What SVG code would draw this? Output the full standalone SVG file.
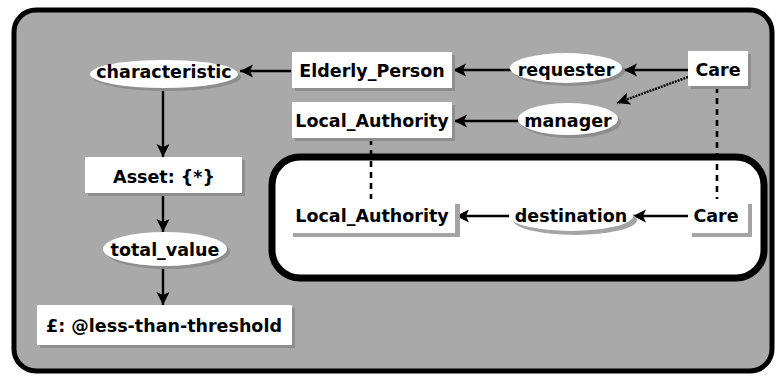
<svg xmlns="http://www.w3.org/2000/svg" width="779" height="376" viewBox="0 0 779 376">
<style>
text{font-family:"DejaVu Sans","Liberation Sans",sans-serif;font-weight:bold;font-size:17.5px;fill:#000;text-anchor:middle;dominant-baseline:central}
.box{fill:#fff}
.sh{fill:#8e8e8e}
.shw{fill:#a4a4a4}
.ln{stroke:#000;stroke-width:2.4;fill:none}
.dash{stroke:#000;stroke-width:2.6;fill:none;stroke-dasharray:6 5}
</style>
<defs>
<marker id="ah" markerUnits="userSpaceOnUse" markerWidth="14" markerHeight="14" viewBox="0 0 14 14" refX="13" refY="7" orient="auto">
<path d="M0,0.5 L13,7 L0,13.5 L3,7 z" fill="#000"/>
</marker>
</defs>
<rect x="0" y="0" width="779" height="376" fill="#fff"/>
<rect x="14" y="10" width="758" height="361" rx="22" fill="#a9a9a9" stroke="#000" stroke-width="5"/>
<rect x="272" y="157" width="492" height="121" rx="28" fill="#fff" stroke="#000" stroke-width="7"/>

<g id="connectors">
<line class="ln" x1="291" y1="71" x2="240" y2="71" marker-end="url(#ah)"/>
<line class="ln" x1="512" y1="70" x2="453" y2="70" marker-end="url(#ah)"/>
<line class="ln" x1="688" y1="70" x2="624" y2="70" marker-end="url(#ah)"/>
<line class="ln" x1="688" y1="77" x2="617" y2="103" stroke-dasharray="2 1" marker-end="url(#ah)"/>
<line class="ln" x1="518" y1="121" x2="454" y2="121" marker-end="url(#ah)"/>
<line class="ln" x1="163" y1="88" x2="163" y2="157" marker-end="url(#ah)"/>
<line class="ln" x1="163" y1="193" x2="163" y2="232" marker-end="url(#ah)"/>
<line class="ln" x1="163" y1="266" x2="163" y2="305" marker-end="url(#ah)"/>
<line class="dash" x1="371" y1="139" x2="371" y2="199"/>
<line class="dash" x1="717" y1="87" x2="717" y2="199"/>
<line class="ln" x1="510" y1="216" x2="456" y2="216" marker-end="url(#ah)"/>
<line class="ln" x1="692" y1="216" x2="633" y2="216" marker-end="url(#ah)"/>
</g>

<g id="characteristic">
<ellipse class="sh" cx="167" cy="77" rx="74" ry="14"/>
<ellipse class="box" cx="164" cy="74" rx="74" ry="14"/>
<text x="164" y="72">characteristic</text>
</g>
<g id="elderly_person">
<rect class="sh" x="295" y="55" width="160" height="36"/>
<rect class="box" x="292" y="52" width="160" height="36"/>
<text x="372" y="71">Elderly_Person</text>
</g>
<g id="requester">
<ellipse class="sh" cx="569" cy="71" rx="56" ry="15"/>
<ellipse class="box" cx="566" cy="68" rx="56" ry="15"/>
<text x="566" y="70">requester</text>
</g>
<g id="care_top">
<rect class="sh" x="691" y="54" width="60" height="35"/>
<rect class="box" x="688" y="51" width="60" height="35"/>
<text x="718" y="70">Care</text>
</g>
<g id="local_authority_top">
<rect class="sh" x="295" y="105" width="160" height="36"/>
<rect class="box" x="292" y="102" width="160" height="36"/>
<text x="372" y="121">Local_Authority</text>
</g>
<g id="manager">
<ellipse class="sh" cx="571" cy="122" rx="50" ry="16"/>
<ellipse class="box" cx="568" cy="119" rx="50" ry="16"/>
<text x="568" y="121">manager</text>
</g>
<g id="asset">
<rect class="sh" x="88" y="160" width="157" height="36"/>
<rect class="box" x="85" y="157" width="157" height="36"/>
<text x="164" y="177">Asset: {*}</text>
</g>
<g id="total_value">
<ellipse class="sh" cx="168" cy="252" rx="62" ry="17"/>
<ellipse class="box" cx="165" cy="249" rx="62" ry="17"/>
<text x="165" y="250">total_value</text>
</g>
<g id="threshold">
<rect class="sh" x="40" y="308" width="255" height="40"/>
<rect class="box" x="37" y="305" width="255" height="40"/>
<text x="164" y="326">£: @less-than-threshold</text>
</g>
<g id="local_authority_bottom">
<rect class="shw" x="293" y="204" width="167" height="33"/>
<rect class="box" x="289" y="200" width="166" height="33"/>
<text x="372" y="216">Local_Authority</text>
</g>
<g id="destination">
<ellipse class="shw" cx="575" cy="220" rx="62" ry="15"/>
<ellipse class="box" cx="571" cy="216" rx="62" ry="15"/>
<text x="571" y="216">destination</text>
</g>
<g id="care_bottom">
<rect class="shw" x="692" y="204" width="60" height="33"/>
<rect class="box" x="688" y="200" width="60" height="33"/>
<text x="716" y="216">Care</text>
</g>
</svg>
